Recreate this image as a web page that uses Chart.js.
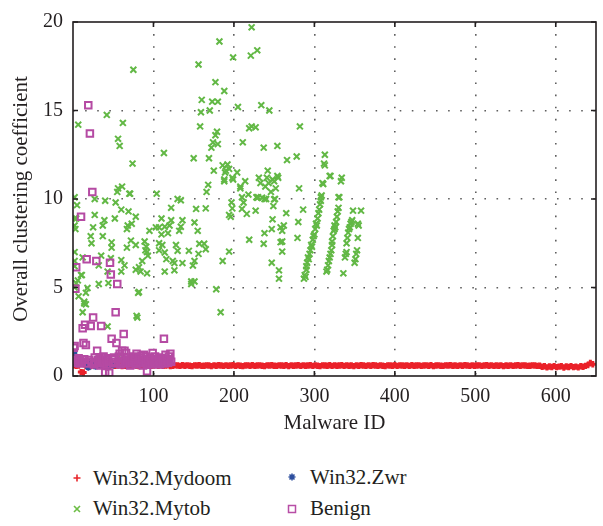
<!DOCTYPE html>
<html lang="en">
<head>
  <meta charset="UTF-8">
  <title>Overall clustering coefficient</title>
  <script src="https://cdn.jsdelivr.net/npm/chart.js"></script>
  <style>
    body {
      margin: 0;
      background: #ffffff;
      font-family: "Liberation Serif", "Times New Roman", serif;
      color: #231f20;
    }
    #wrap {
      position: relative;
      width: 603px;
      height: 526px;
    }
    #chartBox {
      position: absolute;
      left: 0;
      top: 0;
      width: 603px;
      height: 440px;
    }
    .lg {
      position: absolute;
      font-size: 21px;
      line-height: 24px;
      white-space: nowrap;
    }
    .mk {
      position: absolute;
    }
  </style>
</head>
<body>

<div id="wrap">
  <div id="chartBox"><canvas id="scatter"></canvas></div>

  <svg class="mk" style="left:72px; top:473px" width="10" height="10">
    <path d="M5 1.5 V8.5 M1.5 5 H8.5" stroke="#e8262b" stroke-width="1.6"/>
  </svg>
  <div class="lg" style="left:93px; top:466px">Win32.Mydoom</div>

  <svg class="mk" style="left:72px; top:504px" width="10" height="10">
    <path d="M2 2 L8 8 M8 2 L2 8" stroke="#6cbd45" stroke-width="1.6"/>
  </svg>
  <div class="lg" style="left:93px; top:496px">Win32.Mytob</div>

  <svg class="mk" style="left:287px; top:472px" width="10" height="10">
    <path d="M5 1.5 V8.5 M1.5 5 H8.5 M2.5 2.5 L7.5 7.5 M7.5 2.5 L2.5 7.5" stroke="#2d4f9e" stroke-width="1.6"/>
  </svg>
  <div class="lg" style="left:310px; top:465px">Win32.Zwr</div>

  <svg class="mk" style="left:287px; top:504px" width="10" height="10">
    <rect x="1.5" y="1.5" width="7" height="7" fill="none" stroke="#b84ea6" stroke-width="1.5"/>
  </svg>
  <div class="lg" style="left:310px; top:496px">Benign</div>
</div>

<script>
  // axis ticks
  const xTicks = [100, 200, 300, 400, 500, 600];
  const yTicks = [0, 5, 10, 15, 20];

  // Win32.Mydoom: one value every 3rd malware ID starting at ID 1
  const mydoomFirstId = 1;
  const mydoomIdStep = 3;
  const mydoomValues = [
    0.6, 0.57, 0.59, 0.22, 0.2, 0.58, 0.61, 0.56, 0.6, 0.58, 0.57, 0.61,
    0.59, 0.56, 0.6, 0.58, 0.62, 0.57, 0.59, 0.6, 0.56, 0.58, 0.61, 0.59,
    0.57, 0.6, 0.58, 0.56, 0.61, 0.59, 0.58, 0.6, 0.57, 0.59, 0.62, 0.58,
    0.6, 0.57, 0.59, 0.61, 0.56, 0.58, 0.6, 0.59, 0.57, 0.61, 0.58, 0.6,
    0.58, 0.56, 0.6, 0.59, 0.61, 0.57, 0.58, 0.6, 0.59, 0.56, 0.6, 0.58,
    0.61, 0.59, 0.57, 0.6, 0.58, 0.59, 0.61, 0.57, 0.6, 0.58, 0.56, 0.59,
    0.6, 0.58, 0.61, 0.57, 0.59, 0.6, 0.58, 0.56, 0.6, 0.59, 0.61, 0.58,
    0.57, 0.6, 0.59, 0.58, 0.61, 0.56, 0.6, 0.58, 0.59, 0.61, 0.57, 0.6,
    0.58, 0.59, 0.61, 0.57, 0.6, 0.58, 0.56, 0.6, 0.59, 0.58, 0.61, 0.57,
    0.6, 0.58, 0.59, 0.61, 0.57, 0.6, 0.58, 0.59, 0.56, 0.6, 0.58, 0.61,
    0.59, 0.57, 0.6, 0.58, 0.61, 0.59, 0.57, 0.6, 0.58, 0.56, 0.6, 0.59,
    0.58, 0.61, 0.57, 0.6, 0.59, 0.58, 0.6, 0.57, 0.61, 0.58, 0.59, 0.6,
    0.57, 0.59, 0.6, 0.58, 0.61, 0.56, 0.59, 0.6, 0.58, 0.57, 0.6, 0.59,
    0.61, 0.58, 0.59, 0.57, 0.6, 0.58, 0.61, 0.59, 0.57, 0.6, 0.58, 0.59,
    0.6, 0.57, 0.59, 0.61, 0.58, 0.6, 0.57, 0.59, 0.58, 0.6, 0.56, 0.59,
    0.58, 0.6, 0.57, 0.59, 0.61, 0.58, 0.6, 0.59, 0.57, 0.58, 0.6, 0.59,
    0.57, 0.58, 0.52, 0.55, 0.49, 0.54, 0.51, 0.56, 0.5, 0.53, 0.55, 0.48,
    0.54, 0.51, 0.56, 0.5, 0.53, 0.49, 0.55, 0.52, 0.57, 0.62, 0.74, 0.66
  ];

  // Win32.Mytob: [malware ID, coefficient]
  const mytobPoints = [
    [2, 10.1], [2, 8.9], [3, 8.3], [2, 8.5], [2, 7.0], [2, 6.5], [2, 6.2], [2, 5.0], [4, 5.25], [4, 8.9],
    [5, 9.65], [6.5, 14.2], [6, 5.4], [7, 4.5], [10, 5.7], [11, 5.7], [12, 6.7], [12, 3.6], [14, 4.2], [14, 4.1],
    [16, 4.05], [16, 4.7], [18, 4.97], [22, 7.9], [23, 7.5], [25, 8.4], [27, 9.1], [27, 10.0], [32, 5.2], [32, 6.25],
    [35, 6.8], [37, 7.9], [37, 8.5], [39, 8.8], [40, 9.9], [42, 14.75], [43, 2.8], [43, 5.9], [44, 5.25], [47, 6.65],
    [48, 7.55], [48, 7.25], [52, 8.9], [53, 9.8], [55, 10.4], [56, 10.6], [56, 13.4], [57, 1.1], [58, 13.0], [60, 5.9],
    [60, 6.55], [60, 9.4], [61, 10.7], [62, 14.3], [64, 6.25], [67, 8.3], [67, 7.25], [68, 8.5], [69, 9.3], [70, 10.3],
    [71, 10.3], [72, 7.65], [73, 8.6], [74, 12.0], [75, 17.3], [78, 9.0], [78, 7.4], [78, 6.0], [79, 3.4], [80, 3.3],
    [81, 4.7], [82, 6.15], [82, 4.75], [84, 5.9], [86, 6.5], [89, 7.6], [90, 7.1], [91, 7.3], [92, 7.0], [93, 6.8],
    [92, 5.8], [95, 8.2], [103, 8.4], [104, 10.3], [107, 8.4], [107, 7.5], [107, 7.1], [110, 8.9], [110, 8.0], [111, 7.4],
    [113, 12.6], [114, 8.43], [114, 6.98], [114, 5.9], [116, 6.6], [118, 8.07], [120, 8.5], [122, 9.5], [122, 8.8], [124, 6.5],
    [126, 6.38], [126, 5.97], [128, 7.4], [130, 10.0], [130, 7.07], [132, 8.2], [134, 9.93], [134, 8.43], [136, 8.8], [136, 6.38],
    [144, 7.07], [147, 5.34], [147, 5.2], [149, 6.24], [150, 12.3], [151, 8.67], [151, 6.5], [151, 5.34], [153, 9.44], [155, 8.2],
    [156, 6.9], [156, 17.6], [157, 7.47], [158, 14.1], [159, 14.9], [160, 15.6], [163, 7.47], [165, 9.47], [165, 7.16], [166, 10.4],
    [168, 10.8], [169, 12.3], [170, 15.0], [172, 12.9], [173, 15.5], [174, 13.2], [175, 11.6], [177, 16.6], [177, 13.6], [178, 4.9],
    [179, 13.8], [180, 15.5], [180, 13.1], [182, 18.9], [183.5, 3.6], [186, 6.5], [186, 11.9], [188, 16.1], [188, 11.1], [188, 11.0],
    [189, 11.5], [190, 11.6], [192, 11.95], [194, 11.7], [194, 9.1], [194, 7.03], [196, 9.0], [197, 9.8], [198, 11.2], [198, 9.47],
    [199, 18.0], [199, 11.1], [204, 11.5], [205, 15.2], [208, 10.7], [208, 10.6], [210, 10.1], [210, 9.44], [211, 13.2], [212, 9.8],
    [214, 11.0], [216, 9.16], [218, 10.25], [219, 14.0], [219, 7.7], [221, 18.1], [222, 19.7], [222, 14.1], [227, 14.05], [227, 9.34],
    [228, 10.1], [229, 18.4], [229, 10.07], [230, 10.1], [231, 11.2], [233, 10.9], [234, 15.3], [235, 10.07], [237, 12.9], [237, 7.47],
    [238, 8.07], [238, 10.0], [239, 10.7], [240, 10.0], [241, 11.2], [242, 11.6], [243, 10.9], [244, 15.0], [246, 10.4], [247, 8.3],
    [247, 6.4], [248, 8.85], [248, 11.1], [249, 9.6], [250, 11.0], [250, 9.98], [251, 10.0], [252, 10.6], [254, 13.0], [254, 11.3],
    [255, 11.2], [256, 5.5], [256, 5.97], [258, 8.4], [258, 7.56], [260, 8.2], [260, 7.6], [260, 7.03], [262, 8.5], [265, 9.2],
    [266, 12.2], [278, 12.4], [279, 7.8], [280, 8.7], [281, 10.6], [282, 14.1], [286, 9.4],
    [287, 5.5], [288, 5.7], [289, 5.6], [290, 6.0], [290, 6.2], [291, 6.4], [292, 6.7], [293, 6.6], [294, 6.9], [295, 7.1],
    [296, 7.4], [297, 7.3], [298, 7.7], [299, 7.9], [300, 8.0], [301, 8.3], [302, 8.6], [303, 8.5], [304, 8.9], [305, 9.2],
    [306, 9.4], [307, 9.7], [308, 9.9], [309, 10.2], [308, 10.1], [310, 10.9], [311, 10.85], [312, 12.0], [313, 12.5], [313, 11.9],
    [315, 5.9], [316, 6.0], [317, 6.25], [318, 6.5], [319, 6.7], [320, 6.9], [321, 7.1], [322, 7.4], [322, 7.6], [323, 7.9],
    [324, 8.2], [325, 8.3], [325, 8.5], [326, 8.4], [327, 8.7], [328, 9.0], [329, 9.3], [330, 9.5], [331, 10.1], [319, 11.3],
    [320, 11.3], [330, 10.1], [333, 11.0], [334, 11.2],
    [336, 5.8], [338, 6.7], [339, 6.9], [340, 7.0], [340, 7.5], [341, 7.8], [342, 8.1], [343, 8.3], [344, 8.4], [345, 8.6],
    [346, 8.7], [347, 8.8], [348, 9.34], [350, 6.4], [351, 6.6], [352, 6.9], [353, 7.1], [354, 7.8], [354, 8.6], [355, 8.5],
    [358, 9.34]
  ];

  // Win32.Zwr
  const zwrIds = [1, 1, 2, 3, 5, 8, 10, 12, 15, 18, 19, 22, 25, 28, 30, 33, 35, 38, 41, 43, 44, 47, 50];
  const zwrValues = [1.3, 1.1, 0.9, 0.75, 1.0, 0.95, 0.75, 0.8, 0.7, 0.84, 0.5, 0.65, 0.7, 0.55, 0.62, 0.7, 0.6, 0.7, 0.66, 0.51, 0.6, 0.65, 0.62];

  // Benign: one value per ID 1..122
  const benignValues = [
    1.6, 1.7, 4.93, 6.15, 0.9, 0.75, 1.0, 0.7, 0.85, 9.0,
    0.8, 2.7, 1.87, 0.95, 2.9, 1.75, 6.6, 0.7, 15.3, 0.9,
    13.7, 2.82, 0.8, 10.4, 3.3, 0.65, 1.05, 0.75, 6.5, 1.42,
    0.9, 0.7, 1.0, 0.6, 2.82, 0.85, 0.75, 1.1, 0.7, 0.2,
    0.9, 0.65, 1.0, 0.8, 0.18, 6.4, 5.74, 2.1, 0.95, 0.7,
    1.05, 0.8, 3.6, 1.87, 5.2, 0.75, 1.1, 1.25, 0.65, 1.0,
    1.42, 0.8, 2.37, 1.42, 0.7, 1.3, 0.85, 1.05, 0.75, 0.9,
    0.6, 1.0, 0.8, 0.7, 1.1, 0.85, 0.95, 0.65, 1.25, 0.75,
    0.9, 1.05, 0.8, 0.7, 1.15, 0.9, 0.6, 1.2, 0.85, 0.75,
    1.1, 0.27, 0.95, 0.8, 0.7, 1.05, 0.9, 0.65, 1.3, 0.8,
    0.75, 1.1, 0.9, 0.7, 0.95, 0.85, 1.05, 0.65, 0.8, 1.0,
    0.75, 0.9, 2.1, 0.7, 1.2, 0.85, 0.95, 0.75, 1.1, 0.9,
    1.25, 0.8
  ];

  const mydoomData = mydoomValues.map((v, i) => ({ x: mydoomFirstId + i * mydoomIdStep, y: v }));
  const mytobData = mytobPoints.map(p => ({ x: p[0], y: p[1] }));
  const zwrData = zwrIds.map((id, i) => ({ x: id, y: zwrValues[i] }));
  const benignData = benignValues.map((v, i) => ({ x: i + 1, y: v }));

  // box around the plot with inward ticks
  const framePlugin = {
    id: 'frame',
    afterDatasetsDraw(chart) {
      const { ctx, chartArea: a, scales: { x, y } } = chart;
      ctx.save();
      ctx.strokeStyle = '#231f20';
      ctx.lineWidth = 1.6;
      ctx.strokeRect(a.left, a.top, a.right - a.left, a.bottom - a.top);
      ctx.beginPath();
      x.ticks.forEach(t => {
        const px = x.getPixelForValue(t.value);
        ctx.moveTo(px, a.bottom); ctx.lineTo(px, a.bottom - 5);
        ctx.moveTo(px, a.top); ctx.lineTo(px, a.top + 5);
      });
      y.ticks.forEach(t => {
        const py = y.getPixelForValue(t.value);
        ctx.moveTo(a.left, py); ctx.lineTo(a.left + 5, py);
        ctx.moveTo(a.right, py); ctx.lineTo(a.right - 5, py);
      });
      ctx.stroke();
      ctx.restore();
    }
  };

  const serif = '"Liberation Serif", "Times New Roman", serif';

  new Chart(document.getElementById('scatter').getContext('2d'), {
    type: 'scatter',
    data: {
      datasets: [
        {
          label: 'Win32.Mydoom',
          data: mydoomData,
          pointStyle: 'cross',
          pointRadius: 3.2,
          borderWidth: 3,
          borderColor: '#ea2129',
          backgroundColor: '#ea2129',
          order: 2
        },
        {
          label: 'Win32.Mytob',
          data: mytobData,
          pointStyle: 'crossRot',
          pointRadius: 4.2,
          borderWidth: 2,
          borderColor: '#62b845',
          backgroundColor: '#62b845',
          order: 3
        },
        {
          label: 'Win32.Zwr',
          data: zwrData,
          pointStyle: 'star',
          pointRadius: 3.5,
          borderWidth: 2,
          borderColor: '#2d4f9e',
          backgroundColor: '#2d4f9e',
          order: 1
        },
        {
          label: 'Benign',
          data: benignData,
          pointStyle: 'rect',
          pointRadius: 4.6,
          borderWidth: 2,
          borderColor: '#b54aa3',
          backgroundColor: 'rgba(255,255,255,0)',
          order: 0
        }
      ]
    },
    options: {
      responsive: true,
      maintainAspectRatio: false,
      animation: false,
      events: [],
      layout: { padding: { top: 10, right: 5, left: 0, bottom: 0 } },
      plugins: {
        legend: { display: false },
        tooltip: { enabled: false }
      },
      scales: {
        x: {
          type: 'linear',
          min: 0,
          max: 650,
          afterBuildTicks: s => { s.ticks = xTicks.map(v => ({ value: v })); },
          afterFit: s => { s.height = 64; },
          ticks: {
            padding: 9,
            color: '#231f20',
            font: { family: serif, size: 20 }
          },
          grid: {
            drawTicks: false,
            color: '#5f5f5f',
            lineWidth: 1.6
          },
          border: { display: false, dash: [1.6, 10.5] },
          title: {
            display: true,
            text: 'Malware ID',
            color: '#231f20',
            font: { family: serif, size: 21 },
            padding: { top: 0, bottom: 4 }
          }
        },
        y: {
          type: 'linear',
          min: 0,
          max: 20,
          afterBuildTicks: s => { s.ticks = yTicks.map(v => ({ value: v })); },
          afterFit: s => { s.width = 73; },
          ticks: {
            padding: 10,
            color: '#231f20',
            font: { family: serif, size: 20 }
          },
          grid: {
            drawTicks: false,
            color: ctx => (ctx.tick && (ctx.tick.value === 0 || ctx.tick.value === 20)) ? 'rgba(0,0,0,0)' : '#5f5f5f',
            lineWidth: 1.6
          },
          border: { display: false, dash: [1.6, 10.5] },
          title: {
            display: true,
            text: 'Overall clustering coefficient',
            color: '#231f20',
            font: { family: serif, size: 21 },
            padding: { top: 9, bottom: 0 }
          }
        }
      }
    },
    plugins: [framePlugin]
  });
</script>

</body>
</html>
